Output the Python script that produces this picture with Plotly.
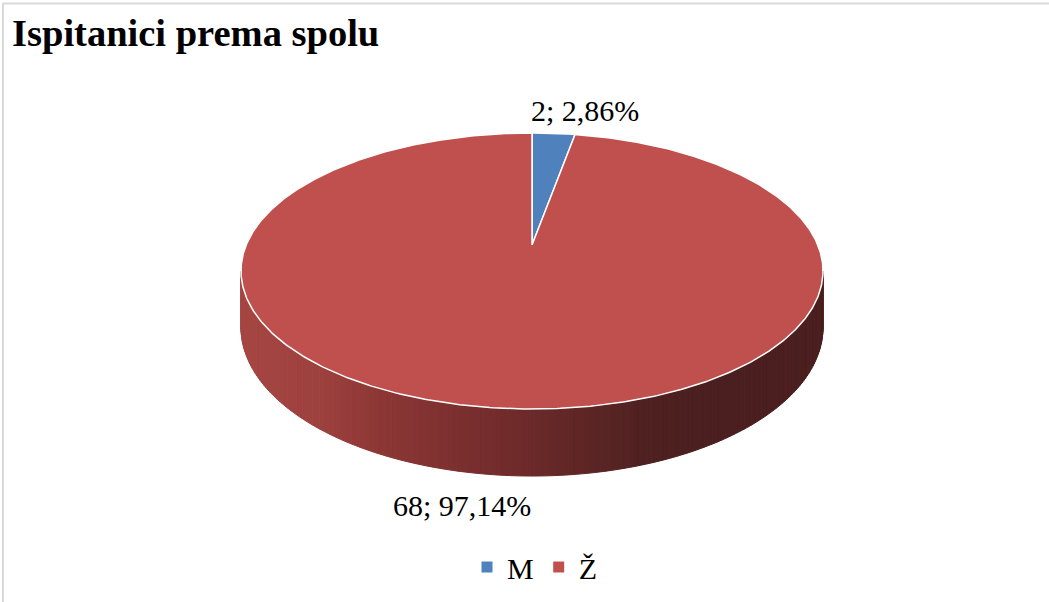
import math
import plotly.graph_objects as go

# ---- data ----
title_text = "Ispitanici prema spolu"
categories = ["M", "Ž"]
values = [2, 68]

# ---- style / layout constants ----
top_colors = ["#4F81BD", "#C0504D"]
W, H = 1049, 602
cx, cy = 532, 245          # pie centre on screen
aR, bR = 285.8, 133.1      # projected radii
u = 0.1884                 # perspective factor
depth = 54.4               # thickness of the pie
label_pos = [(585, 110), (462, 505)]
font_family = "Liberation Serif, Times New Roman, serif"

# side gradient stops (screen x -> rgb)
grad_stops = [(245, (165, 70, 66)), (320, (157, 65, 62)), (380, (140, 55, 53)),
              (450, (125, 48, 48)), (520, (110, 42, 42)), (580, (95, 38, 38)),
              (640, (80, 33, 33)), (700, (75, 31, 31)), (830, (75, 31, 31))]


def grad_color(x):
    if x <= grad_stops[0][0]:
        c = grad_stops[0][1]
    elif x >= grad_stops[-1][0]:
        c = grad_stops[-1][1]
    else:
        for (x0, c0), (x1, c1) in zip(grad_stops[:-1], grad_stops[1:]):
            if x0 <= x <= x1:
                t = (x - x0) / (x1 - x0)
                c = tuple(round(a + (b - a) * t) for a, b in zip(c0, c1))
                break
    return "rgb(%d,%d,%d)" % c


def proj(theta, z=0.0):
    s = 1.0 / (1.0 + u * math.cos(theta))
    x = cx + aR * math.sin(theta) * s
    y = cy - bR * math.cos(theta) * s + z * s
    return x, y


def frange(a, b, n):
    return [a + (b - a) * i / n for i in range(n + 1)]


total = sum(values)
fig = go.Figure()

# slice angle ranges (clockwise from 12 o'clock)
angles = []
acc = 0.0
for v in values:
    a0 = acc / total * 2 * math.pi
    acc += v
    a1 = acc / total * 2 * math.pi
    angles.append((a0, a1))

# ---- side walls (front part only) ----
th1 = math.acos(-u)
th2 = 2 * math.pi - th1
for i, (a0, a1) in enumerate(angles):
    s0, s1 = max(a0, th1), min(a1, th2)
    if s1 <= s0:
        continue
    n = max(2, int((s1 - s0) / (2 * math.pi) * 400))
    ts = frange(s0, s1, n)
    for ta, tb in zip(ts[:-1], ts[1:]):
        p1, p2 = proj(ta), proj(tb)
        p3, p4 = proj(tb, depth), proj(ta, depth)
        xs = [p1[0], p2[0], p3[0], p4[0], p1[0]]
        ys = [p1[1], p2[1], p3[1], p4[1], p1[1]]
        col = grad_color((p1[0] + p2[0]) / 2) if i == len(values) - 1 else top_colors[i]
        fig.add_trace(go.Scatter(x=xs, y=ys, mode="lines", fill="toself",
                                 fillcolor=col, line=dict(color=col, width=1),
                                 hoverinfo="skip", showlegend=False))

# ---- top faces ----
for i, (a0, a1) in enumerate(angles):
    n = max(4, int((a1 - a0) / (2 * math.pi) * 720))
    pts = [proj(t) for t in frange(a0, a1, n)]
    xs = [cx] + [p[0] for p in pts] + [cx]
    ys = [cy] + [p[1] for p in pts] + [cy]
    fig.add_trace(go.Scatter(x=xs, y=ys, mode="lines", fill="toself",
                             fillcolor=top_colors[i],
                             line=dict(color="white", width=1.5),
                             name=categories[i], hoverinfo="name",
                             showlegend=False))

# ---- legend entries ----
for i, name in enumerate(categories):
    fig.add_trace(go.Scatter(x=[None], y=[None], mode="markers",
                             marker=dict(symbol="square", size=11, color=top_colors[i]),
                             name=name, showlegend=True))

# ---- data labels ----
for i, v in enumerate(values):
    pct = v / total * 100
    txt = f"{v}; {pct:.2f}".replace(".", ",") + "%"
    fig.add_annotation(x=label_pos[i][0], y=label_pos[i][1], text=txt,
                       showarrow=False, xanchor="center", yanchor="middle",
                       font=dict(family=font_family, size=30, color="black"))

# title
fig.add_annotation(x=10, y=33, text="<b>" + title_text + "</b>", showarrow=False,
                   xanchor="left", yanchor="middle",
                   font=dict(family=font_family, size=38.5, color="black"))

# chart border
fig.add_shape(type="rect", x0=3, y0=3.5, x1=W + 40, y1=H + 40,
              line=dict(color="#d9d9d9", width=2), layer="below")

fig.update_layout(
    width=W, height=H,
    margin=dict(l=0, r=0, t=0, b=0),
    paper_bgcolor="white", plot_bgcolor="white",
    xaxis=dict(range=[0, W], visible=False, fixedrange=True),
    yaxis=dict(range=[H, 0], visible=False, fixedrange=True),
    legend=dict(orientation="h", x=535 / W, xanchor="center",
                y=1 - 567 / H, yanchor="middle",
                font=dict(family=font_family, size=30, color="black"),
                itemclick=False, bgcolor="rgba(0,0,0,0)"),
    showlegend=True,
)

fig.write_html("out.html",
               config={"displayModeBar": False},
               post_script="document.body.style.margin='0px';")
